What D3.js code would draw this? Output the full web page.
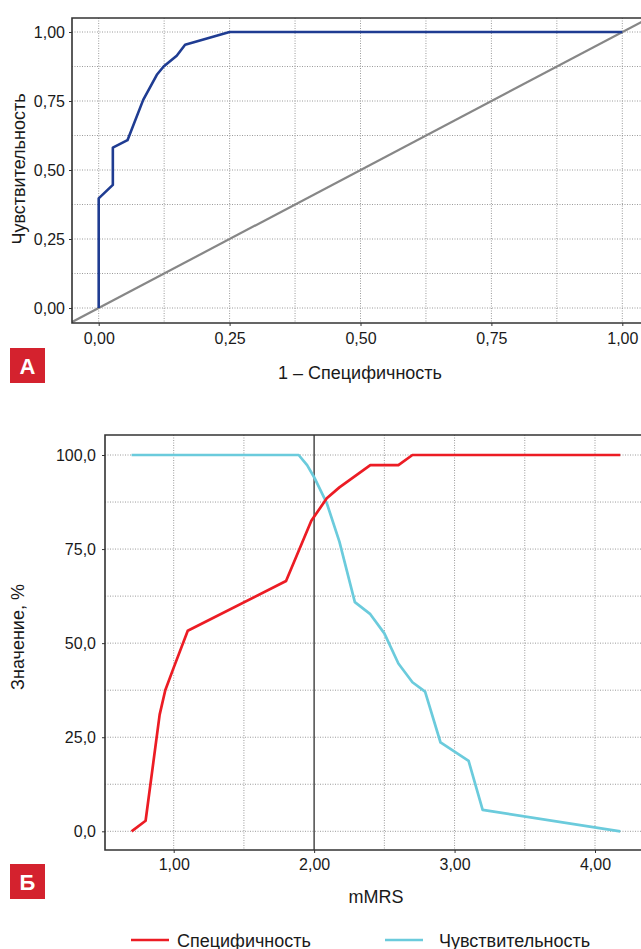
<!DOCTYPE html>
<html>
<head>
<meta charset="utf-8">
<script src="https://cdn.jsdelivr.net/npm/d3@7"></script>
<style>
  body { margin: 0; background: #fff; }
  svg text { font-family: "Liberation Sans", Arial, sans-serif; fill: #1a1a1a; }
</style>
</head>
<body>
<svg id="chart" width="641" height="949"></svg>
<script>
// Panel A: ROC curve (1 - specificity, sensitivity)
const rocX = [0, 0, 0.027, 0.027, 0.055, 0.085, 0.111, 0.124, 0.149, 0.165, 0.25, 1.0];
const rocY = [0, 0.397, 0.446, 0.581, 0.608, 0.754, 0.845, 0.875, 0.914, 0.954, 1.0, 1.0];
const ticksA = [0, 0.25, 0.5, 0.75, 1.0];
const tickLabelsA = ['0,00', '0,25', '0,50', '0,75', '1,00'];

// Panel B: specificity and sensitivity vs mMRS
const specX = [0.70, 0.80, 0.90, 0.94, 1.00, 1.10, 1.80, 1.98, 2.09, 2.18, 2.40, 2.60, 2.70, 4.18];
const specY = [0, 2.8, 31.0, 37.5, 43.5, 53.3, 66.5, 82.5, 88.5, 91.4, 97.3, 97.3, 100, 100];
const sensX = [0.70, 1.89, 1.95, 2.00, 2.09, 2.18, 2.29, 2.40, 2.50, 2.60, 2.70, 2.79, 2.90, 3.10, 3.20, 4.18];
const sensY = [100, 100, 97.3, 94.1, 87.2, 77.0, 60.9, 57.7, 52.6, 44.6, 39.6, 37.1, 23.6, 18.7, 5.7, 0];
const ticksBx = [1, 2, 3, 4];
const tickLabelsBx = ['1,00', '2,00', '3,00', '4,00'];
const ticksBy = [0, 25, 50, 75, 100];
const tickLabelsBy = ['0,0', '25,0', '50,0', '75,0', '100,0'];
const cutoff = 2.0;

const COLORS = {
  roc: '#1f3c92', diag: '#878787', spec: '#ec1c24', sens: '#6bcbdc',
  frame: '#333', grid: '#9a9a9a', badge: '#d4222e'
};
const FONT = '"Liberation Sans", Arial, sans-serif';

const svg = d3.select('#chart');

function drawPanel(cfg) {
  const { left, top, right, bottom, x, y, xGrid, yGrid, id } = cfg;
  svg.append('clipPath').attr('id', id)
    .append('rect').attr('x', left).attr('y', top)
    .attr('width', right - left).attr('height', bottom - top);

  const g = svg.append('g');
  g.selectAll('.vg').data(xGrid).enter().append('line')
    .attr('x1', d => x(d)).attr('x2', d => x(d))
    .attr('y1', top).attr('y2', bottom)
    .attr('stroke', COLORS.grid).attr('stroke-width', 1).attr('stroke-dasharray', '1,1.5');
  g.selectAll('.hg').data(yGrid).enter().append('line')
    .attr('x1', left).attr('x2', right)
    .attr('y1', d => y(d)).attr('y2', d => y(d))
    .attr('stroke', COLORS.grid).attr('stroke-width', 1).attr('stroke-dasharray', '1,1.5');

  return svg.append('g').attr('clip-path', `url(#${id})`);
}

function drawFrame(left, top, right, bottom) {
  svg.append('path')
    .attr('d', `M${right},${top}H${left}V${bottom}H${right}`)
    .attr('fill', 'none').attr('stroke', COLORS.frame).attr('stroke-width', 1.6);
}

function styleAxis(g) {
  g.select('.domain').remove();
  g.selectAll('line').attr('stroke', COLORS.frame);
  g.selectAll('text').attr('font-size', '16px').style('font-family', FONT).style('fill', '#1a1a1a');
}

function badge(x, y, letter) {
  svg.append('rect').attr('x', x).attr('y', y).attr('width', 35).attr('height', 35)
    .attr('fill', COLORS.badge);
  svg.append('text').attr('x', x + 17.5).attr('y', y + 25.5)
    .attr('text-anchor', 'middle').attr('font-size', '22px').attr('font-weight', 'bold')
    .style('fill', '#fff').text(letter);
}

// ---------- Panel A ----------
const A = { left: 72, top: 18, right: 648, bottom: 323 };
const xA = d3.scaleLinear().domain([0, 1]).range([98.7, 622.3]);
const yA = d3.scaleLinear().domain([0, 1]).range([308, 32]);
const gridA = d3.range(0, 1.0001, 0.125);

const plotA = drawPanel({ ...A, x: xA, y: yA, xGrid: gridA, yGrid: gridA, id: 'clipA' });

const dLo = xA.invert(A.left), dHi = xA.invert(A.right);
plotA.append('line')
  .attr('x1', xA(dLo)).attr('y1', yA(dLo)).attr('x2', xA(dHi)).attr('y2', yA(dHi))
  .attr('stroke', COLORS.diag).attr('stroke-width', 2.2);

plotA.append('path')
  .datum(d3.zip(rocX, rocY))
  .attr('d', d3.line().x(d => xA(d[0])).y(d => yA(d[1])))
  .attr('fill', 'none').attr('stroke', COLORS.roc).attr('stroke-width', 2.6)
  .attr('stroke-linejoin', 'round');

drawFrame(A.left, A.top, A.right, A.bottom);

svg.append('g').attr('transform', `translate(0,${A.bottom})`)
  .call(d3.axisBottom(xA).tickValues(ticksA).tickFormat((d, i) => tickLabelsA[i]).tickSize(3).tickPadding(7))
  .call(styleAxis);
svg.append('g').attr('transform', `translate(${A.left},0)`)
  .call(d3.axisLeft(yA).tickValues(ticksA).tickFormat((d, i) => tickLabelsA[i]).tickSize(3).tickPadding(4))
  .call(styleAxis);

svg.append('text').attr('x', 360).attr('y', 379).attr('text-anchor', 'middle')
  .attr('font-size', '18px').text('1 – Специфичность');
svg.append('text').attr('transform', 'translate(25,169) rotate(-90)').attr('text-anchor', 'middle')
  .attr('font-size', '18px').text('Чувствительность');
badge(10, 348, 'А');

// ---------- Panel B ----------
const B = { left: 105, top: 435, right: 648, bottom: 850 };
const xB = d3.scaleLinear().domain([1, 4]).range([173.7, 595]);
const yB = d3.scaleLinear().domain([0, 100]).range([831.3, 455]);
const gridBx = d3.range(1, 4.0001, 0.5).filter(v => v !== cutoff);
const gridBy = d3.range(0, 100.001, 12.5);

const plotB = drawPanel({ ...B, x: xB, y: yB, xGrid: gridBx, yGrid: gridBy, id: 'clipB' });

plotB.append('line')
  .attr('x1', xB(cutoff)).attr('x2', xB(cutoff)).attr('y1', B.top).attr('y2', B.bottom)
  .attr('stroke', '#555').attr('stroke-width', 1.6);

const lineB = d3.line().x(d => xB(d[0])).y(d => yB(d[1]));
plotB.append('path').datum(d3.zip(sensX, sensY)).attr('d', lineB)
  .attr('fill', 'none').attr('stroke', COLORS.sens).attr('stroke-width', 2.7).attr('stroke-linejoin', 'round');
plotB.append('path').datum(d3.zip(specX, specY)).attr('d', lineB)
  .attr('fill', 'none').attr('stroke', COLORS.spec).attr('stroke-width', 2.7).attr('stroke-linejoin', 'round');

drawFrame(B.left, B.top, B.right, B.bottom);

svg.append('g').attr('transform', `translate(0,${B.bottom})`)
  .call(d3.axisBottom(xB).tickValues(ticksBx).tickFormat((d, i) => tickLabelsBx[i]).tickSize(3).tickPadding(6))
  .call(styleAxis);
svg.append('g').attr('transform', `translate(${B.left},0)`)
  .call(d3.axisLeft(yB).tickValues(ticksBy).tickFormat((d, i) => tickLabelsBy[i]).tickSize(3).tickPadding(6))
  .call(styleAxis);

svg.append('text').attr('x', 376).attr('y', 903).attr('text-anchor', 'middle')
  .attr('font-size', '18px').text('mMRS');
svg.append('text').attr('transform', 'translate(24,637) rotate(-90)').attr('text-anchor', 'middle')
  .attr('font-size', '18px').text('Значение, %');
badge(10, 864, 'Б');

// legend
const legend = [
  { name: 'Специфичность', color: COLORS.spec, x: 131, tx: 46 },
  { name: 'Чувствительность', color: COLORS.sens, x: 385, tx: 54 }
];
const lg = svg.selectAll('.legend').data(legend).enter().append('g')
  .attr('transform', d => `translate(${d.x},940)`);
lg.append('line').attr('x1', 0).attr('x2', 38).attr('y1', 0).attr('y2', 0)
  .attr('stroke', d => d.color).attr('stroke-width', 2.7);
lg.append('text').attr('x', d => d.tx).attr('y', 6.5)
  .attr('font-size', '18px').text(d => d.name);
</script>
</body>
</html>
